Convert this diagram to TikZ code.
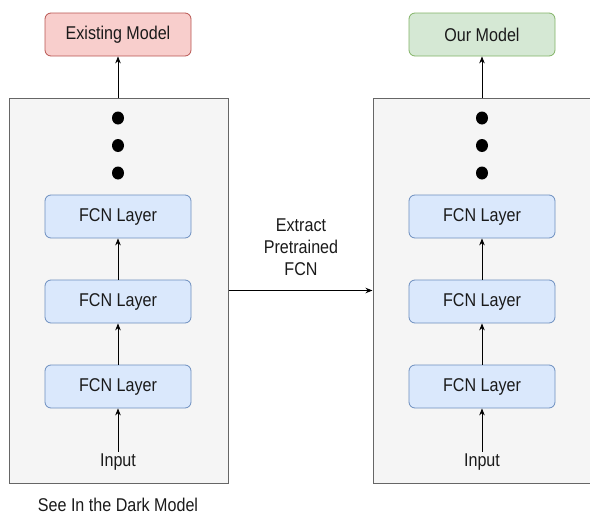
\documentclass[tikz,border=0pt]{standalone}
\usepackage{fontspec}
\setmainfont{Liberation Sans}[FakeStretch=0.87]
\usetikzlibrary{arrows.meta}
\definecolor{redfill}{HTML}{F8CECC}
\definecolor{redline}{HTML}{B85450}
\definecolor{greenfill}{HTML}{D5E8D4}
\definecolor{greenline}{HTML}{82B366}
\definecolor{bluefill}{HTML}{DAE8FC}
\definecolor{blueline}{HTML}{6C8EBF}
\definecolor{boxfill}{HTML}{F5F5F5}
\definecolor{boxline}{HTML}{666666}
\definecolor{txt}{HTML}{1A1A1A}
\tikzset{
  lbl/.style={font=\fontsize{18.5}{22}\selectfont, text=txt, inner sep=2pt},
  container/.style={draw=boxline, fill=boxfill, line width=1pt, minimum height=385pt, inner sep=0pt},
  rbox/.style={lbl, rounded corners=6pt, line width=0.8pt, minimum width=146pt, minimum height=43pt},
  layer/.style={rbox, draw=blueline, fill=bluefill},
  arr/.style={line width=0.9pt, -{Stealth[length=7pt,width=5.5pt]}, black}
}
\begin{document}
\begin{tikzpicture}[x=1pt,y=-1pt]
\useasboundingbox (0,0) rectangle (590,514);
\clip (0,0) rectangle (590,514);
% containers
\node[container, minimum width=219pt] (c1) at (118.5,290.5) {};
\node[container, minimum width=227pt] (c2) at (486.5,290.5) {};
% top models
\node[rbox, draw=redline, fill=redfill] (em) at (118,34.5) {Existing Model};
\node[rbox, draw=greenline, fill=greenfill] (om) at (482,34.5) {Our Model};
% left stack
\node[layer] (la) at (118,216.5) {FCN Layer};
\node[layer] (lb) at (118,301.5) {FCN Layer};
\node[layer] (lc) at (118,386.5) {FCN Layer};
\node[lbl] (li) at (118,462) {Input};
% right stack
\node[layer] (ra) at (482,216.5) {FCN Layer};
\node[layer] (rb) at (482,301.5) {FCN Layer};
\node[layer] (rc) at (482,386.5) {FCN Layer};
\node[lbl] (ri) at (482,462) {Input};
% dots
\foreach \yy in {118,145.5,173}{
  \fill (118,\yy) ellipse [x radius=6pt, y radius=6.5pt];
  \fill (482,\yy) ellipse [x radius=6pt, y radius=6.5pt];
}
% arrows
\coordinate (c1top) at (118,98);
\coordinate (c2top) at (482,98);
\draw[arr] (c1top) -- (em.south);
\draw[arr] (c2top) -- (om.south);
\draw[arr] (lb.north) -- (la.south);
\draw[arr] (lc.north) -- (lb.south);
\draw[arr] (li.north) -- (lc.south);
\draw[arr] (rb.north) -- (ra.south);
\draw[arr] (rc.north) -- (rb.south);
\draw[arr] (ri.north) -- (rc.south);
\draw[arr] (c1.east) -- (c2.west);
\node[lbl, align=center] (ex) at (301,247) {Extract\\Pretrained\\FCN};
% caption
\node[lbl] (cap) at (118,504.5) {See In the Dark Model};
\end{tikzpicture}
\end{document}
